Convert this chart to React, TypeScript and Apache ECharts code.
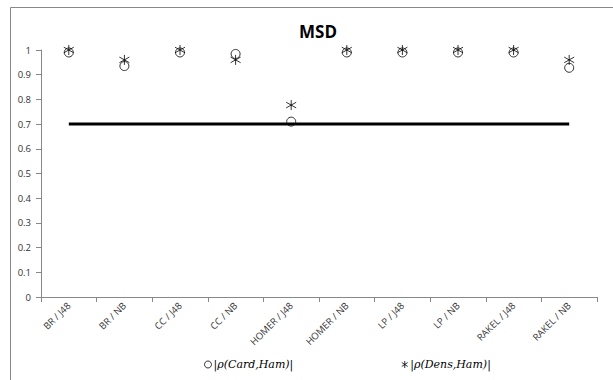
import React, { useEffect, useRef } from "react";
import * as echarts from "echarts";

const categories = ["BR / J48", "BR / NB", "CC / J48", "CC / NB", "HOMER / J48", "HOMER / NB", "LP / J48", "LP / NB", "RAKEL / J48", "RAKEL / NB"];
const cardHam = [0.99, 0.935, 0.99, 0.984, 0.71, 0.99, 0.99, 0.99, 0.99, 0.928];
const densHam = [1.0, 0.96, 1.0, 0.96, 0.777, 1.0, 1.0, 1.0, 1.0, 0.96];
const threshold = [0.7, 0.7, 0.7, 0.7, 0.7, 0.7, 0.7, 0.7, 0.7, 0.7];
const yTicks = [0, 0.1, 0.2, 0.3, 0.4, 0.5, 0.6, 0.7, 0.8, 0.9, 1];

const starPath = "path://M5 0 L5 10 M0.8 2.2 L9.2 7.8 M9.2 2.2 L0.8 7.8";

export default function App() {
  const ref = useRef<HTMLDivElement>(null);
  useEffect(() => {
    const chart = echarts.init(ref.current!, null, { renderer: "svg" });
    chart.setOption({
      animation: false,
      backgroundColor: "#fff",
      title: {
        text: "MSD",
        left: 313,
        textAlign: "center",
        top: 18,
        textStyle: { fontFamily: "Open Sans", fontWeight: "bold", fontSize: 17, color: "#000" },
      },
      grid: { left: 41, right: 16, top: 50, bottom: 83 },
      xAxis: {
        type: "category",
        data: categories,
        boundaryGap: true,
        axisLine: { lineStyle: { color: "#888", width: 1 } },
        axisTick: { show: true, alignWithLabel: false, length: 5, lineStyle: { color: "#888" } },
        axisLabel: { rotate: 45, fontSize: 9.5, color: "#333", fontFamily: "Open Sans", margin: 7, interval: 0 },
        splitLine: { show: false },
      },
      yAxis: {
        type: "value",
        min: 0,
        max: 1,
        interval: 0.1,
        axisLine: { show: true, lineStyle: { color: "#888", width: 1 } },
        axisTick: { show: true, length: 5, lineStyle: { color: "#888" } },
        axisLabel: {
          fontSize: 9.5,
          color: "#333",
          fontFamily: "Open Sans",
          margin: 10,
          formatter: (v: number) => {
            const t = yTicks.find((x) => Math.abs(x - v) < 1e-9);
            return String(t !== undefined ? t : +v.toFixed(1));
          },
        },
        splitLine: { show: false },
      },
      legend: {
        bottom: 5,
        left: 199,
        itemGap: 108,
        itemWidth: 7,
        itemHeight: 7,
        textStyle: { fontFamily: "DejaVu Serif", fontStyle: "italic", fontSize: 11, color: "#000", padding: [0, 0, 0, -3] },
        data: [
          { name: "|ρ(Card,Ham)|", icon: "circle", itemStyle: { color: "transparent", borderColor: "#000", borderWidth: 1 } },
          { name: "|ρ(Dens,Ham)|", icon: starPath, itemStyle: { color: "transparent", borderColor: "#000", borderWidth: 1 } },
        ],
      },
      graphic: [
        { type: "line", shape: { x1: 10.5, y1: 7.5, x2: 613, y2: 7.5 }, style: { stroke: "#888", lineWidth: 1 }, silent: true },
        { type: "line", shape: { x1: 10.5, y1: 7.5, x2: 10.5, y2: 380 }, style: { stroke: "#888", lineWidth: 1 }, silent: true },
      ],
      series: [
        {
          name: "threshold",
          type: "line",
          data: threshold,
          symbol: "none",
          lineStyle: { color: "#000", width: 3 },
          z: 1,
        },
        {
          name: "|ρ(Card,Ham)|",
          type: "scatter",
          data: cardHam,
          symbol: "circle",
          symbolSize: 9,
          itemStyle: { color: "transparent", borderColor: "#000", borderWidth: 1 },
          z: 3,
        },
        {
          name: "|ρ(Dens,Ham)|",
          type: "scatter",
          data: densHam,
          symbol: starPath,
          symbolSize: 10,
          itemStyle: { color: "transparent", borderColor: "#000", borderWidth: 1 },
          z: 4,
        },
      ],
    });
    return () => chart.dispose();
  }, []);
  return <div ref={ref} style={{ width: 613, height: 380, position: "absolute", left: 0, top: 0 }} />;
}
